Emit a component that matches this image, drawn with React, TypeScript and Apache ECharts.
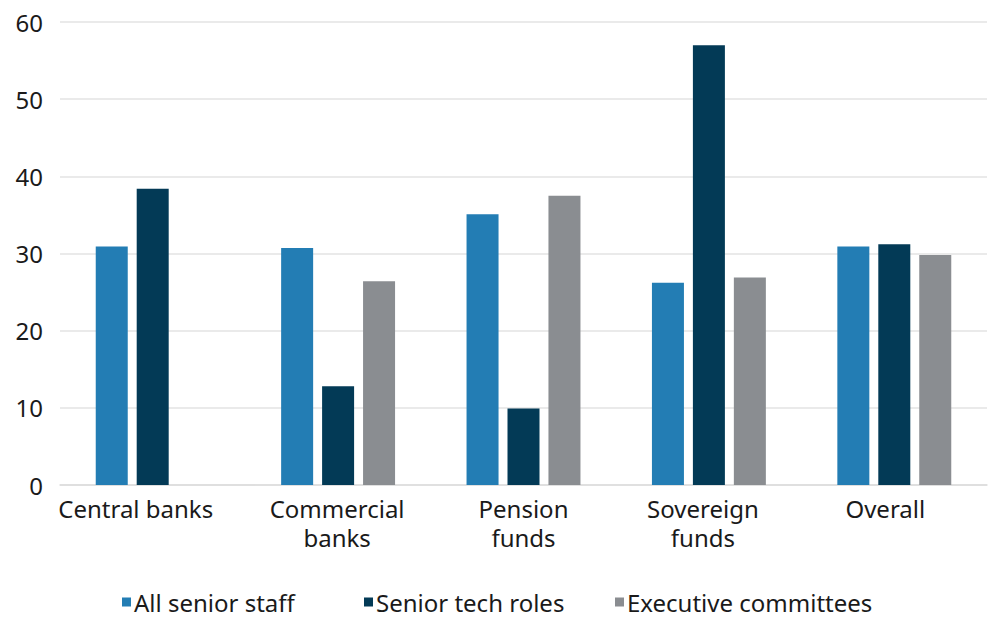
import React, { useEffect, useRef } from "react";
import * as echarts from "echarts";

const categories = ["Central banks", "Commercial\nbanks", "Pension\nfunds", "Sovereign\nfunds", "Overall"];
const allSeniorStaff = [30.9, 30.7, 35.1, 26.2, 30.9];
const seniorTechRoles = [38.4, 12.8, 9.9, 57.0, 31.2];
const executiveCommittees = [null, 26.4, 37.5, 26.9, 29.8];
const yTicks = { min: 0, max: 60, interval: 10 };

const FONT = "Noto Sans";
// horizontal nudges of the category labels (px, negative = left), as in the reference
const labelNudge = [-17, -1, 0, -6, -9];

export default function App() {
  const ref = useRef<HTMLDivElement>(null);
  useEffect(() => {
    if (!ref.current) return;
    const chart = echarts.init(ref.current, undefined, { renderer: "svg" });
    const legendText = { fontFamily: FONT, fontSize: 24, color: "#1a1a1a", padding: [0, 0, 0, -2] };
    const mkLegend = (name: string, left: number) => ({
      show: true,
      data: [name],
      left,
      top: 585,
      orient: "horizontal",
      icon: "rect",
      itemWidth: 9,
      itemHeight: 9,
      textStyle: legendText,
      selectedMode: false,
    });
    const xData = categories.map((c, i) => {
      const n = labelNudge[i];
      return {
        value: c,
        textStyle: { padding: n < 0 ? [0, -2 * n, 0, 0] : [0, 0, 0, 2 * n] },
      };
    });
    chart.setOption({
      animation: false,
      backgroundColor: "#ffffff",
      grid: { left: 60, right: 13, top: 22, bottom: 137, containLabel: false },
      legend: [
        mkLegend("All senior staff", 117),
        mkLegend("Senior tech roles", 359),
        mkLegend("Executive committees", 610),
      ],
      xAxis: {
        type: "category",
        data: xData,
        axisLine: { show: true, lineStyle: { color: "#dcdcdc", width: 1.5 } },
        axisTick: { show: false },
        axisLabel: {
          fontFamily: FONT,
          fontSize: 24,
          color: "#1a1a1a",
          margin: 9,
          lineHeight: 29,
          interval: 0,
        },
      },
      yAxis: {
        type: "value",
        min: yTicks.min,
        max: yTicks.max,
        interval: yTicks.interval,
        axisLine: { show: false },
        axisTick: { show: false },
        splitLine: { lineStyle: { color: "#e3e3e3", width: 1.5 } },
        axisLabel: { fontFamily: FONT, fontSize: 24, color: "#1a1a1a", margin: 17 },
      },
      series: [
        { name: "All senior staff", type: "bar", data: allSeniorStaff, barWidth: 32, barGap: "28%", itemStyle: { color: "#237db4" } },
        { name: "Senior tech roles", type: "bar", data: seniorTechRoles, barWidth: 32, barGap: "28%", itemStyle: { color: "#033a56" } },
        { name: "Executive committees", type: "bar", data: executiveCommittees, barWidth: 32, barGap: "28%", itemStyle: { color: "#8a8d91" } },
      ],
    });
    return () => chart.dispose();
  }, []);
  return <div ref={ref} style={{ width: 1000, height: 622, position: "absolute", left: 0, top: 0 }} />;
}
